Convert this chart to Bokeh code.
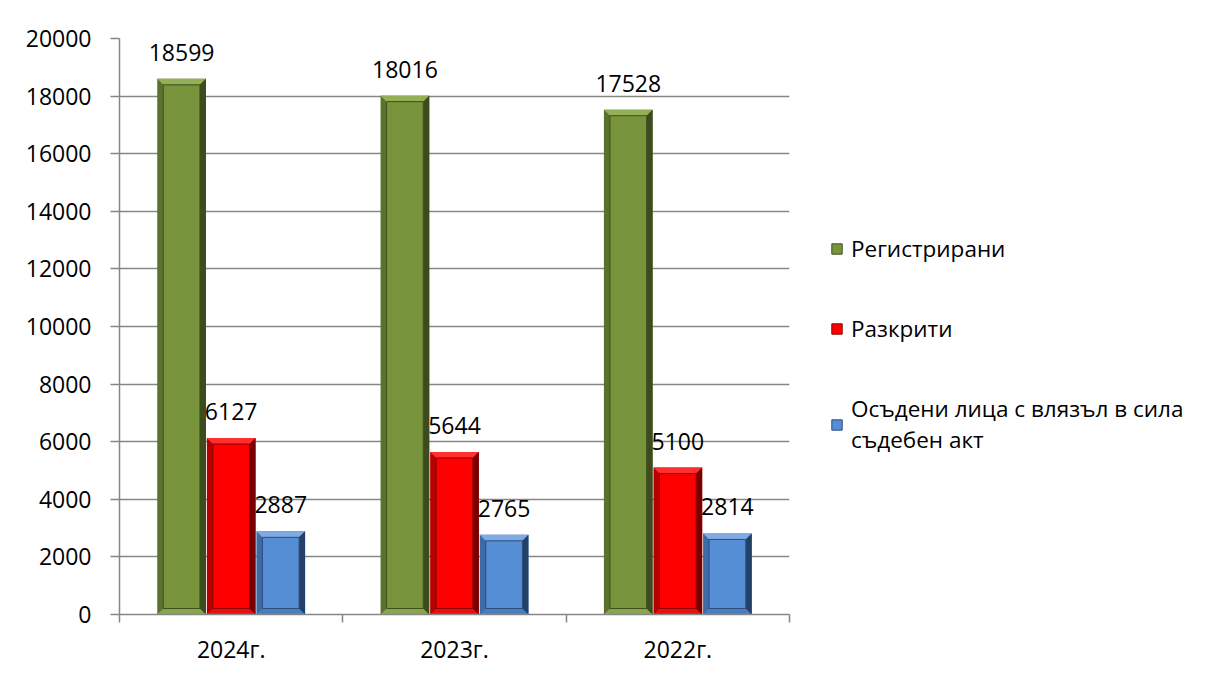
from bokeh.plotting import figure
from bokeh.models import Range1d, FixedTicker, Legend, LegendItem
from bokeh.core.properties import value
from bokeh.embed import file_html
from bokeh.resources import INLINE

# ---- data ----
years = ["2024г.", "2023г.", "2022г."]
series_names = ["Регистрирани", "Разкрити", "Осъдени лица с влязъл в сила\nсъдебен акт"]
registered = [18599, 18016, 17528]
solved = [6127, 5644, 5100]
convicted = [2887, 2765, 2814]
y_ticks = [0, 2000, 4000, 6000, 8000, 10000, 12000, 14000, 16000, 18000, 20000]

# ---- styles ----
FONT = "Open Sans"
GRID = "#868686"
palettes = [
    dict(main="#77933C", top="#93B056", bottom="#8AA64C", left="#5B722C", right="#3C4C1C", line="#3F4F1F"),
    dict(main="#FF0000", top="#FF3030", bottom="#E61010", left="#B80000", right="#7A0000", line="#8A0000"),
    dict(main="#558ED5", top="#7FAAE2", bottom="#4A7EC0", left="#3C6BA6", right="#22406A", line="#2C4E7C"),
]
offsets = [-0.222, 0.0, 0.222]
bar_w = 0.218

FRAME_W, FRAME_H = 670, 576
p = figure(output_backend="svg", toolbar_location=None,
           x_range=Range1d(0, 3), y_range=Range1d(0, 20000),
           frame_width=FRAME_W, frame_height=FRAME_H,
           min_border_left=119, min_border_top=38, min_border_right=20, min_border_bottom=40)
p.outline_line_color = None
p.background_fill_color = "white"
p.border_fill_color = "white"

bx = 6 * 3 / FRAME_W
by = 6 * 20000 / FRAME_H

centers = [i + 0.5 for i in range(len(years))]
legend_items = []
for vals, off, pal, name in zip([registered, solved, convicted], offsets, palettes, series_names):
    xs = [c + off for c in centers]
    L = [x - bar_w / 2 for x in xs]
    R = [x + bar_w / 2 for x in xs]
    p.quad(left=L, right=R, bottom=0, top=vals, fill_color=pal["left"], line_color=None)
    top_x = [[l, r, r - bx, l + bx] for l, r in zip(L, R)]
    top_y = [[v, v, v - by, v - by] for v in vals]
    p.patches(top_x, top_y, fill_color=pal["top"], line_color=None)
    bot_y = [[0, 0, by, by] for v in vals]
    p.patches(top_x, bot_y, fill_color=pal["bottom"], line_color=None)
    right_x = [[r, r, r - bx, r - bx] for r in R]
    right_y = [[v, 0, by, v - by] for v in vals]
    p.patches(right_x, right_y, fill_color=pal["right"], line_color=None)
    inner = p.quad(left=[l + bx for l in L], right=[r - bx for r in R], bottom=by,
                   top=[v - by for v in vals], fill_color=pal["main"], line_color=pal["line"], line_width=1)
    p.text(x=xs, y=vals, text=[str(v) for v in vals], text_align="center", text_baseline="bottom",
           y_offset=-18, text_font=value(FONT), text_font_size="23px", text_color="black")
    legend_items.append(LegendItem(label=name, renderers=[inner]))

p.xaxis.ticker = FixedTicker(ticks=centers, minor_ticks=[0, 1, 2, 3])
p.xaxis.major_label_overrides = {c: y for c, y in zip(centers, years)}
p.xaxis.major_tick_line_color = None
p.xaxis.major_tick_out = 0
p.xaxis.major_tick_in = 0
p.xaxis.minor_tick_line_color = GRID
p.xaxis.minor_tick_out = 8
p.xaxis.minor_tick_in = 0
p.xaxis.minor_tick_line_width = 1.5
p.xaxis.axis_line_color = GRID
p.xaxis.axis_line_width = 1.5
p.xaxis.major_label_standoff = 10
p.xgrid.grid_line_color = None

p.yaxis.ticker = FixedTicker(ticks=y_ticks, minor_ticks=[])
p.yaxis.major_tick_out = 9
p.yaxis.major_tick_in = 0
p.yaxis.major_tick_line_color = GRID
p.yaxis.major_tick_line_width = 1.5
p.yaxis.axis_line_color = GRID
p.yaxis.axis_line_width = 1.5
p.yaxis.major_label_standoff = 19
p.ygrid.grid_line_color = GRID
p.ygrid.grid_line_width = 1.5

for ax in (p.xaxis, p.yaxis):
    ax.major_label_text_font = FONT
    ax.major_label_text_font_size = "23px"
    ax.major_label_text_color = "black"

legend = Legend(items=legend_items, location=(41, 159), orientation="vertical",
                label_text_font=FONT, label_text_font_size="22.5px", label_text_color="black",
                glyph_width=13, glyph_height=13, label_standoff=8, spacing=49,
                padding=0, margin=0, border_line_color=None, background_fill_alpha=0)
p.add_layout(legend, "right")

open("out.html", "w").write(file_html(p, INLINE))
